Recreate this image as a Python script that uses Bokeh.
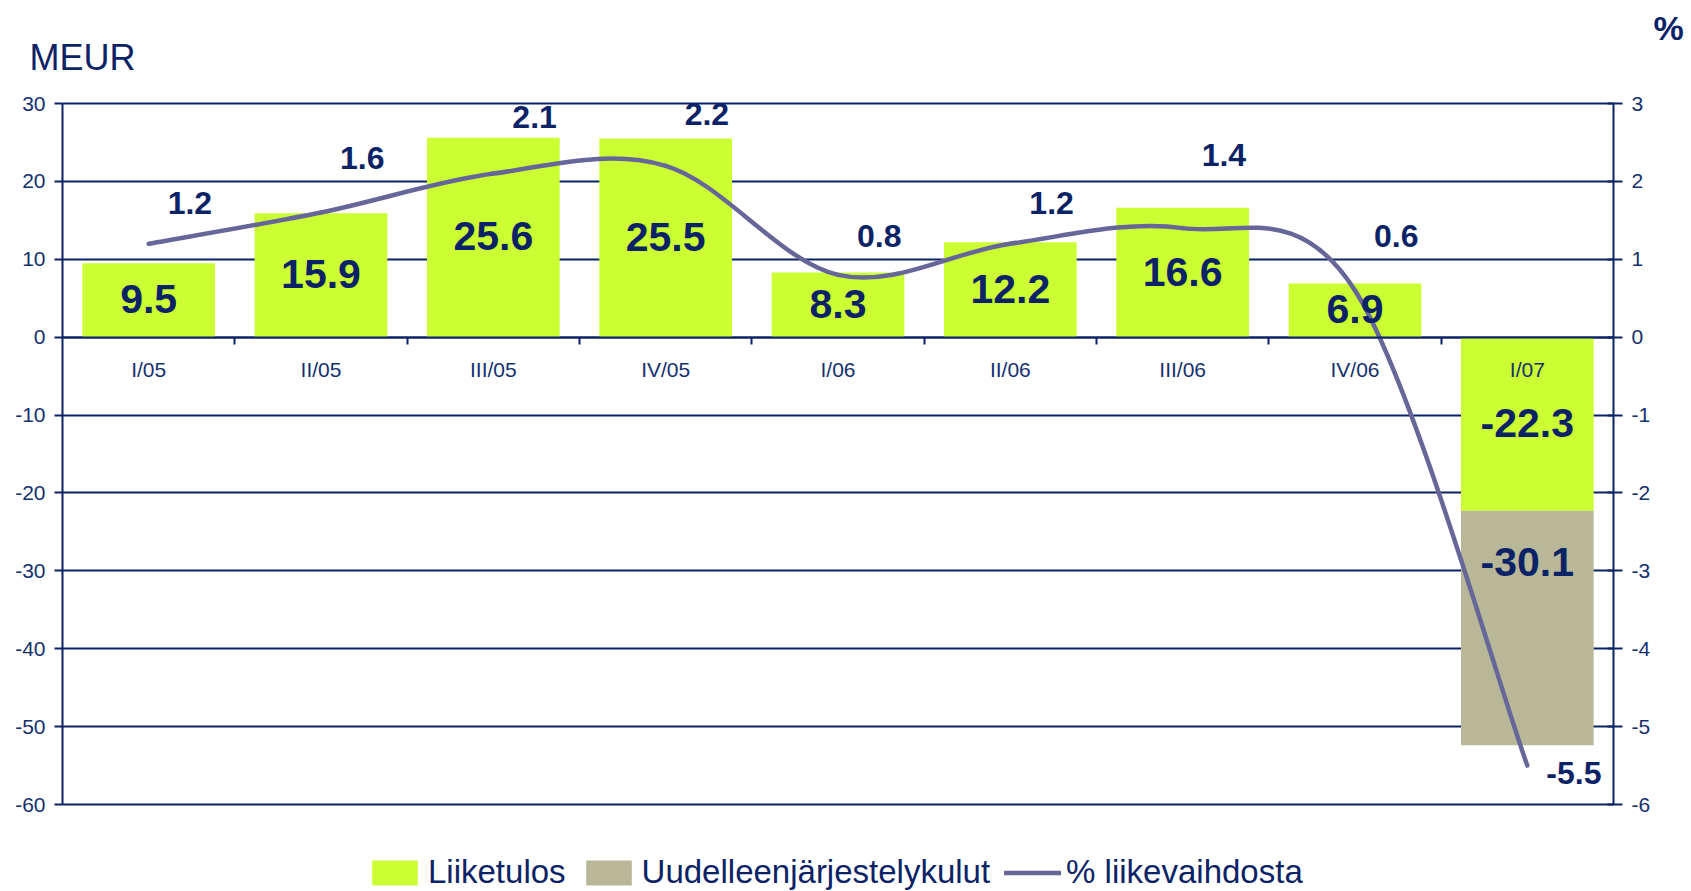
from bokeh.plotting import figure
from bokeh.models import (Range1d, LinearAxis, FixedTicker, Legend, LegendItem, Grid,
                          Label, LabelSet, ColumnDataSource)
from bokeh.embed import file_html
from bokeh.resources import INLINE
from bokeh.core.properties import value

# ---------------- data ----------------
quarters = ["I/05", "II/05", "III/05", "IV/05", "I/06", "II/06", "III/06", "IV/06", "I/07"]
liiketulos = [9.5, 15.9, 25.6, 25.5, 8.3, 12.2, 16.6, 6.9, -22.3]
uudelleenjarjestely = [0, 0, 0, 0, 0, 0, 0, 0, -30.1]
pct_liikevaihdosta = [1.2, 1.6, 2.1, 2.2, 0.8, 1.2, 1.4, 0.6, -5.5]
left_ticks = [-60, -50, -40, -30, -20, -10, 0, 10, 20, 30]
right_ticks = [-6, -5, -4, -3, -2, -1, 0, 1, 2, 3]

# ---------------- style / layout ----------------
NAVY = "#0B2366"
AXIS_TXT = "#14306E"
GREEN = "#CCFF33"
BEIGE = "#B8B898"
LINE = "#666699"
ARIAL = "Liberation Sans"
pct_label_dy = [41, 55, 57, 52, 39, 41, 73, 54, -7]   # pixel offsets (up) of % labels

W, H = 1688, 890
PLOT_L, PLOT_R, PLOT_T, PLOT_B = 62, 1613, 103, 804    # plot area in canvas pixels

n = len(quarters)
ymin, ymax = left_ticks[0], left_ticks[-1]
xu = (PLOT_R - PLOT_L) / n
yu = (PLOT_B - PLOT_T) / (ymax - ymin)
x_start, x_end = -PLOT_L / xu, n + (W - PLOT_R) / xu
y_end, y_start = ymax + PLOT_T / yu, ymin - (H - PLOT_B) / yu
ratio = (right_ticks[-1] - right_ticks[0]) / (ymax - ymin)

xc = [i + 0.5 for i in range(n)]

p = figure(width=W, height=H, x_range=Range1d(x_start, x_end), y_range=Range1d(y_start, y_end),
           output_backend="svg", toolbar_location=None,
           x_axis_location=None, y_axis_location=None,
           min_border_left=0, min_border_right=0, min_border_top=0, min_border_bottom=0)
p.extra_y_ranges = {"pct": Range1d(y_start * ratio, y_end * ratio)}
p.outline_line_color = None
p.background_fill_color = "white"
p.border_fill_color = "white"
p.xgrid.visible = False
p.ygrid.visible = False

grid = Grid(dimension=1, ticker=FixedTicker(ticks=left_ticks),
            grid_line_color=NAVY, grid_line_width=2)
if "cross_bounds" in Grid.properties():
    grid.cross_bounds = (0, n)
p.add_layout(grid, "center")

ax_l = LinearAxis(ticker=FixedTicker(ticks=left_ticks), fixed_location=0, bounds=(ymin, ymax),
                  major_label_overrides={t: str(t) for t in left_ticks})
ax_r = LinearAxis(ticker=FixedTicker(ticks=right_ticks), y_range_name="pct", fixed_location=n,
                  bounds=(right_ticks[0], right_ticks[-1]),
                  major_label_overrides={t: str(t) for t in right_ticks})
for ax, tin, tout in ((ax_l, 0, 8), (ax_r, 6, 9)):
    ax.axis_line_color = NAVY
    ax.axis_line_width = 2
    ax.major_tick_line_color = NAVY
    ax.major_tick_line_width = 2
    ax.major_tick_in = tin
    ax.major_tick_out = tout
    ax.minor_tick_line_color = None
    ax.major_label_text_font = ARIAL
    ax.major_label_text_font_size = "21px"
    ax.major_label_text_color = AXIS_TXT
    ax.major_label_standoff = 9
p.add_layout(ax_l, "left")
p.add_layout(ax_r, "right")

ax_x = LinearAxis(fixed_location=0, bounds=(0, n), ticker=FixedTicker(ticks=list(range(1, n))),
                  major_label_overrides={k: "" for k in range(1, n)})
ax_x.axis_line_color = NAVY
ax_x.axis_line_width = 2
ax_x.major_tick_line_color = NAVY
ax_x.major_tick_line_width = 2
ax_x.major_tick_in = 0
ax_x.major_tick_out = 7
ax_x.minor_tick_line_color = None
ax_x.major_label_text_font_size = "1px"
p.add_layout(ax_x, "below")

ax_c = LinearAxis(fixed_location=0, ticker=FixedTicker(ticks=xc),
                  major_label_overrides={x: q for x, q in zip(xc, quarters)})
ax_c.axis_line_color = None
ax_c.major_tick_line_color = None
ax_c.minor_tick_line_color = None
ax_c.major_tick_in = 0
ax_c.major_tick_out = 0
ax_c.major_label_standoff = 21
ax_c.major_label_text_font = ARIAL
ax_c.major_label_text_font_size = "21px"
ax_c.major_label_text_color = AXIS_TXT
p.add_layout(ax_c, "below")

src = ColumnDataSource(dict(x=xc, liiketulos=liiketulos, uudelleen=uudelleenjarjestely))
bars = p.vbar_stack(["liiketulos", "uudelleen"], x="x", width=0.77, source=src,
                    fill_color=[GREEN, BEIGE], line_color=None)

# Excel-like smoothed line: bezier segments through the data points
bx0, by0, bx1, by1, cx0, cy0, cx1, cy1 = [], [], [], [], [], [], [], []
for i in range(n - 1):
    pm = max(i - 1, 0)
    pp = min(i + 2, n - 1)
    bx0.append(xc[i]); by0.append(pct_liikevaihdosta[i])
    bx1.append(xc[i + 1]); by1.append(pct_liikevaihdosta[i + 1])
    cx0.append(xc[i] + (xc[i + 1] - xc[pm]) / 6.0)
    cy0.append(pct_liikevaihdosta[i] + (pct_liikevaihdosta[i + 1] - pct_liikevaihdosta[pm]) / 6.0)
    cx1.append(xc[i + 1] - (xc[pp] - xc[i]) / 6.0)
    cy1.append(pct_liikevaihdosta[i + 1] - (pct_liikevaihdosta[pp] - pct_liikevaihdosta[i]) / 6.0)
line_r = p.bezier(x0=bx0, y0=by0, x1=bx1, y1=by1, cx0=cx0, cy0=cy0, cx1=cx1, cy1=cy1,
                  y_range_name="pct", line_color=LINE, line_width=4.5, line_cap="round")

bold_big = dict(text_font=value(ARIAL), text_font_style="bold", text_font_size="41px",
                text_color=NAVY, text_align="center", text_baseline="middle")
bl = ColumnDataSource(dict(x=xc, y=[v / 2 for v in liiketulos],
                           t=[f"{v:.1f}" for v in liiketulos]))
p.add_layout(LabelSet(x="x", y="y", text="t", source=bl, y_offset=1, **bold_big))
rs = ColumnDataSource(dict(
    x=[xc[i] for i in range(n) if uudelleenjarjestely[i] != 0],
    y=[liiketulos[i] for i in range(n) if uudelleenjarjestely[i] != 0],
    t=[f"{uudelleenjarjestely[i]:.1f}" for i in range(n) if uudelleenjarjestely[i] != 0]))
p.add_layout(LabelSet(x="x", y="y", text="t", source=rs, y_offset=-51, **bold_big))

pl = ColumnDataSource(dict(x=xc, y=pct_liikevaihdosta, t=[f"{v:.1f}" for v in pct_liikevaihdosta],
                           dy=pct_label_dy))
p.add_layout(LabelSet(x="x", y="y", text="t", source=pl, y_range_name="pct", x_offset=19,
                      y_offset="dy", text_align="left", text_baseline="middle",
                      text_font=value(ARIAL), text_font_style="bold", text_font_size="32px",
                      text_color=NAVY))

p.add_layout(Label(x=(29 - PLOT_L) / xu, y=ymax + (PLOT_T - 57) / yu, text="MEUR",
                   text_baseline="middle", text_align="left",
                   text_font=ARIAL, text_font_size="36px", text_color=NAVY))
p.add_layout(Label(x=(1668 - PLOT_L) / xu, y=ymax + (PLOT_T - 27) / yu, text="%",
                   text_baseline="middle", text_align="center",
                   text_font=ARIAL, text_font_style="bold", text_font_size="34px", text_color=NAVY))

legend = Legend(items=[LegendItem(label="Liiketulos", renderers=[bars[0]]),
                       LegendItem(label="Uudelleenjärjestelykulut", renderers=[bars[1]]),
                       LegendItem(label="% liikevaihdosta", renderers=[line_r])],
                orientation="horizontal", location=(366, -1),
                glyph_width=57, glyph_height=31, label_height=31, label_standoff=5, spacing=14,
                padding=0, margin=0, border_line_color=None, background_fill_alpha=0,
                label_text_font=ARIAL, label_text_font_size="33px", label_text_color=NAVY)
p.add_layout(legend, "center")

open("out.html", "w").write(file_html(p, INLINE))
